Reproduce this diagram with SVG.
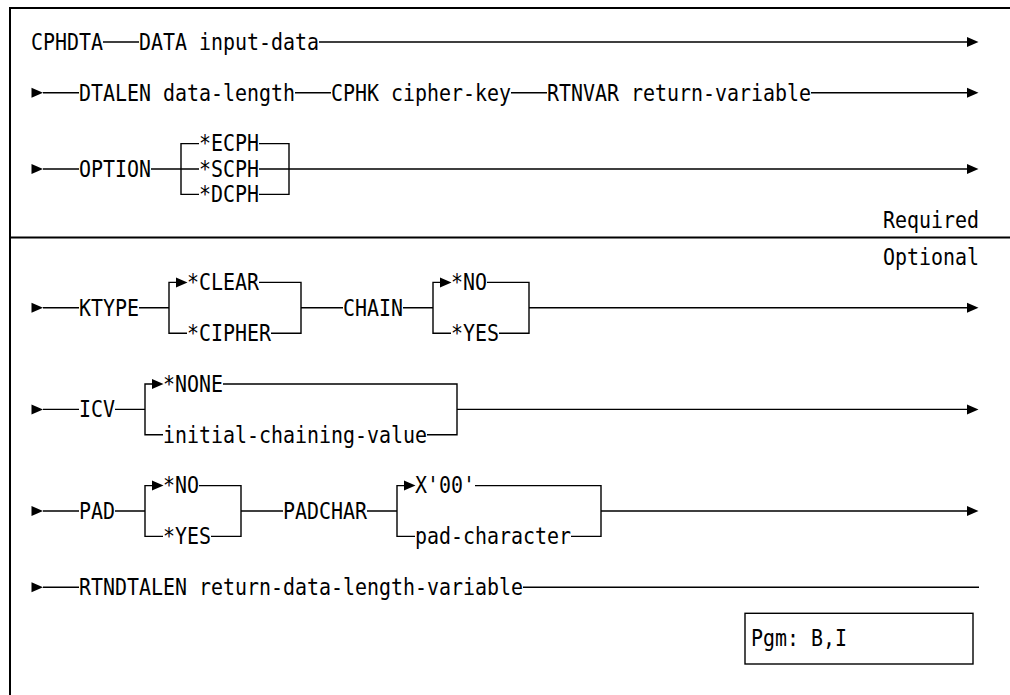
<svg xmlns="http://www.w3.org/2000/svg" xmlns:xlink="http://www.w3.org/1999/xlink" width="1010" height="695" viewBox="0 0 1010 695">
<style>
text{font-family:"DejaVu Sans Mono","Liberation Mono",monospace;font-size:22.5px;fill:#000;}
.ln{fill:none;stroke:#000;stroke-width:1.4;}
.frame{fill:none;stroke:#000;stroke-width:2;}
.ah{fill:#000;stroke:none;}
</style>
<defs>
<path id="arr" class="ah" d="M0,-5 L11.5,0 L0,5 Z"/>
</defs>
<rect x="0" y="0" width="1010" height="695" fill="#fff"/>
<g id="frame">
<path class="frame" d="M1010,8 H10 V695"/>
<path class="frame" d="M10,237.5 H1010"/>
</g>
<g id="connectors">
<path class="ln" d="M103,42 H139 M319,42 H968"/>
<use xlink:href="#arr" x="967" y="42"/>
<use xlink:href="#arr" x="31.5" y="92.8"/>
<path class="ln" d="M43,92.8 H79 M295,92.8 H331 M511,92.8 H547 M811,92.8 H968"/>
<use xlink:href="#arr" x="967" y="92.8"/>
<use xlink:href="#arr" x="31.5" y="169"/>
<path class="ln" d="M43,169 H79 M151,169 H199 M199,143.6 H181 V194.4 H199 M259,143.6 H289 V194.4 H259 M259,169 H968"/>
<use xlink:href="#arr" x="967" y="169"/>
<use xlink:href="#arr" x="31.5" y="307.8"/>
<path class="ln" d="M43,307.8 H79 M139,307.8 H169 M176,282.4 H169 V333.2 H187 M259,282.4 H301 V333.2 H271 M301,307.8 H343 M403,307.8 H433 M440,282.4 H433 V333.2 H451 M487,282.4 H529 V333.2 H499 M529,307.8 H968"/>
<use xlink:href="#arr" x="176" y="282.4"/>
<use xlink:href="#arr" x="440" y="282.4"/>
<use xlink:href="#arr" x="967" y="307.8"/>
<use xlink:href="#arr" x="31.5" y="409.4"/>
<path class="ln" d="M43,409.4 H79 M115,409.4 H145 M152,384 H145 V434.8 H163 M223,384 H457 V434.8 H427 M457,409.4 H968"/>
<use xlink:href="#arr" x="152" y="384"/>
<use xlink:href="#arr" x="967" y="409.4"/>
<use xlink:href="#arr" x="31.5" y="511"/>
<path class="ln" d="M43,511 H79 M115,511 H145 M152,485.6 H145 V536.4 H163 M199,485.6 H241 V536.4 H211 M241,511 H283 M367,511 H397 M404,485.6 H397 V536.4 H415 M475,485.6 H601 V536.4 H571 M601,511 H968"/>
<use xlink:href="#arr" x="152" y="485.6"/>
<use xlink:href="#arr" x="404" y="485.6"/>
<use xlink:href="#arr" x="967" y="511"/>
<use xlink:href="#arr" x="31.5" y="587.2"/>
<path class="ln" d="M43,587.2 H79 M523,587.2 H979"/>
</g>
<g id="n-cphdta"><text x="31" y="49.8" textLength="72" lengthAdjust="spacingAndGlyphs">CPHDTA</text></g>
<g id="n-data"><text x="139" y="49.8" textLength="180" lengthAdjust="spacingAndGlyphs">DATA input-data</text></g>
<g id="n-dtalen"><text x="79" y="100.6" textLength="216" lengthAdjust="spacingAndGlyphs">DTALEN data-length</text></g>
<g id="n-cphk"><text x="331" y="100.6" textLength="180" lengthAdjust="spacingAndGlyphs">CPHK cipher-key</text></g>
<g id="n-rtnvar"><text x="547" y="100.6" textLength="264" lengthAdjust="spacingAndGlyphs">RTNVAR return-variable</text></g>
<g id="n-option"><text x="79" y="176.8" textLength="72" lengthAdjust="spacingAndGlyphs">OPTION</text></g>
<g id="n-ecph"><text x="199" y="151.4" textLength="60" lengthAdjust="spacingAndGlyphs">*ECPH</text></g>
<g id="n-scph"><text x="199" y="176.8" textLength="60" lengthAdjust="spacingAndGlyphs">*SCPH</text></g>
<g id="n-dcph"><text x="199" y="202.2" textLength="60" lengthAdjust="spacingAndGlyphs">*DCPH</text></g>
<g id="n-required"><text x="883" y="227.6" textLength="96" lengthAdjust="spacingAndGlyphs">Required</text></g>
<g id="n-optional"><text x="883" y="264.8" textLength="96" lengthAdjust="spacingAndGlyphs">Optional</text></g>
<g id="n-ktype"><text x="79" y="315.6" textLength="60" lengthAdjust="spacingAndGlyphs">KTYPE</text></g>
<g id="n-clear"><text x="187" y="290.2" textLength="72" lengthAdjust="spacingAndGlyphs">*CLEAR</text></g>
<g id="n-cipher"><text x="187" y="341" textLength="84" lengthAdjust="spacingAndGlyphs">*CIPHER</text></g>
<g id="n-chain"><text x="343" y="315.6" textLength="60" lengthAdjust="spacingAndGlyphs">CHAIN</text></g>
<g id="n-chain-no"><text x="451" y="290.2" textLength="36" lengthAdjust="spacingAndGlyphs">*NO</text></g>
<g id="n-chain-yes"><text x="451" y="341" textLength="48" lengthAdjust="spacingAndGlyphs">*YES</text></g>
<g id="n-icv"><text x="79" y="417.2" textLength="36" lengthAdjust="spacingAndGlyphs">ICV</text></g>
<g id="n-none"><text x="163" y="391.8" textLength="60" lengthAdjust="spacingAndGlyphs">*NONE</text></g>
<g id="n-icv-val"><text x="163" y="442.6" textLength="264" lengthAdjust="spacingAndGlyphs">initial-chaining-value</text></g>
<g id="n-pad"><text x="79" y="518.8" textLength="36" lengthAdjust="spacingAndGlyphs">PAD</text></g>
<g id="n-pad-no"><text x="163" y="493.4" textLength="36" lengthAdjust="spacingAndGlyphs">*NO</text></g>
<g id="n-pad-yes"><text x="163" y="544.2" textLength="48" lengthAdjust="spacingAndGlyphs">*YES</text></g>
<g id="n-padchar"><text x="283" y="518.8" textLength="84" lengthAdjust="spacingAndGlyphs">PADCHAR</text></g>
<g id="n-x00"><text x="415" y="493.4" textLength="60" lengthAdjust="spacingAndGlyphs">X'00'</text></g>
<g id="n-padchar-val"><text x="415" y="544.2" textLength="156" lengthAdjust="spacingAndGlyphs">pad-character</text></g>
<g id="n-rtndtalen"><text x="79" y="595" textLength="444" lengthAdjust="spacingAndGlyphs">RTNDTALEN return-data-length-variable</text></g>
<g id="n-pgm">
<rect x="745" y="613.3" width="228" height="50.7" fill="none" stroke="#000" stroke-width="1.4"/>
<text x="751" y="645.8" textLength="96" lengthAdjust="spacingAndGlyphs">Pgm: B,I</text>
</g>
</svg>
